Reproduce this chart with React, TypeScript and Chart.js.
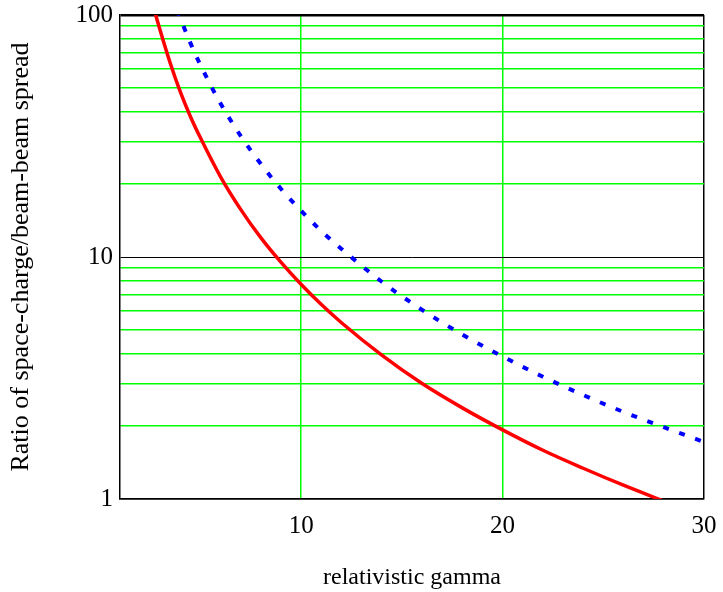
import React, { useEffect, useRef } from "react";
import { Chart, registerables } from "chart.js";

Chart.register(...registerables);

// gamma values (x) and read-off ratios
const redGamma = [2.7, 3, 3.5, 4, 4.5, 5, 6, 7, 8, 9, 10, 11, 12, 14, 16, 18, 20, 22, 24, 26, 28];
const redValues = [105, 86, 63, 48, 38, 31, 21.4, 15.7, 12.0, 9.5, 7.7, 6.36, 5.35, 3.93, 3.0, 2.38, 1.93, 1.59, 1.34, 1.14, 0.98];

const blueGamma = [3.85, 4, 4.5, 5, 6, 7, 8, 9, 10, 11, 12, 14, 16, 18, 20, 22, 24, 26, 28, 30];
const blueValues = [105, 97, 76.5, 62, 43, 31.6, 24.2, 19.1, 15.5, 12.8, 10.8, 7.9, 6.05, 4.78, 3.88, 3.2, 2.69, 2.29, 1.98, 1.72];

const xTicks = [10, 20, 30];
const yTicks = [1, 2, 3, 4, 5, 6, 7, 8, 9, 10, 20, 30, 40, 50, 60, 70, 80, 90, 100];
const yLabels = [1, 10, 100];

const xTitle = "relativistic gamma";
const yTitle = "Ratio of space-charge/beam-beam spread";

const FONT = "'Liberation Serif', 'Times New Roman', serif";

export default function App() {
  const ref = useRef<HTMLCanvasElement>(null);
  useEffect(() => {
    const ctx = ref.current!;
    const chart = new Chart(ctx, {
      type: "line",
      data: {
        datasets: [
          {
            data: redGamma.map((g, i) => ({ x: g, y: redValues[i] })),
            borderColor: "#ff0000",
            borderWidth: 3.5,
            pointRadius: 0,
            cubicInterpolationMode: "monotone",
            fill: false,
          },
          {
            data: blueGamma.map((g, i) => ({ x: g, y: blueValues[i] })),
            borderColor: "#0000ff",
            borderWidth: 4,
            borderDash: [6, 11],
            pointRadius: 0,
            cubicInterpolationMode: "monotone",
            fill: false,
          },
        ],
      },
      options: {
        responsive: false,
        animation: false,
        layout: { padding: { top: 15, right: 19, left: 0, bottom: 0 } },
        plugins: { legend: { display: false }, tooltip: { enabled: false } },
        scales: {
          x: {
            type: "linear",
            min: 1,
            max: 30,
            afterBuildTicks: (axis: any) => {
              axis.ticks = xTicks.map((v) => ({ value: v }));
            },
            afterFit: (axis: any) => {
              axis.height = 93;
              axis.paddingLeft = 0;
              axis.paddingRight = 0;
            },
            ticks: {
              font: { family: FONT, size: 25 },
              color: "#000",
              padding: 12,
              maxRotation: 0,
            },
            grid: {
              color: (c: any) => (c.tick && c.tick.value === 30 ? "#000000" : "#00ff00"),
              lineWidth: 1.5,
              drawTicks: false,
            },
            border: { color: "#000", width: 1.5 },
            title: {
              display: true,
              text: xTitle,
              font: { family: FONT, size: 24 },
              color: "#000",
              padding: { top: 18, bottom: 0 },
            },
          },
          y: {
            type: "logarithmic",
            min: 1,
            max: 100,
            afterBuildTicks: (axis: any) => {
              axis.ticks = yTicks.map((v) => ({ value: v }));
            },
            afterFit: (axis: any) => {
              axis.width = 120;
              axis.paddingTop = 0;
              axis.paddingBottom = 0;
            },
            ticks: {
              font: { family: FONT, size: 25 },
              color: "#000",
              padding: 7,
              autoSkip: false,
              callback: (v: any) => (yLabels.includes(Number(v)) ? String(v) : ""),
            },
            grid: {
              color: (c: any) => {
                const v = c.tick && c.tick.value;
                return v === 10 || v === 100 || v === 1 ? "#000000" : "#00ff00";
              },
              lineWidth: (c: any) => {
                const v = c.tick && c.tick.value;
                return v === 100 ? 2.5 : v === 10 ? 1 : 1.5;
              },
              drawTicks: false,
            },
            border: { color: "#000", width: 1.5 },
            title: {
              display: true,
              text: yTitle,
              font: { family: FONT, size: 26 },
              color: "#000",
              padding: { top: 6, bottom: 0 },
            },
          },
        },
      },
    });
    return () => chart.destroy();
  }, []);
  return (
    <div style={{ position: "absolute", left: 0, top: 0, width: 723, height: 592, background: "#fff" }}>
      <canvas ref={ref} width={723} height={592} style={{ display: "block" }} />
    </div>
  );
}
